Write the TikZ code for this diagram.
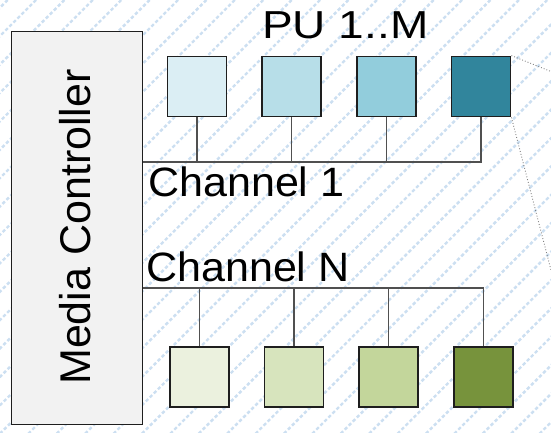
\documentclass[tikz,border=0pt]{standalone}
\usepackage{fontspec}
\setmainfont{Liberation Sans}
\usetikzlibrary{calc}
\definecolor{hatch}{RGB}{204,223,241}
\definecolor{mcfill}{RGB}{242,242,242}
\definecolor{bA}{RGB}{219,238,244}
\definecolor{bB}{RGB}{183,222,232}
\definecolor{bC}{RGB}{146,205,220}
\definecolor{bD}{RGB}{49,133,156}
\definecolor{gA}{RGB}{235,241,222}
\definecolor{gB}{RGB}{215,228,189}
\definecolor{gC}{RGB}{195,214,155}
\definecolor{gD}{RGB}{119,147,60}
\definecolor{edge}{RGB}{30,30,30}
\definecolor{wire}{RGB}{80,80,80}
\tikzset{
  pubox/.style={draw=edge, line width=1.8pt, minimum width=59pt, minimum height=60pt, inner sep=0pt},
  conn/.style={draw=wire, line width=1.1pt},
  zoomline/.style={draw=gray, line width=0.9pt, dotted},
  lbl/.style={inner sep=0pt, text=black}
}
\begin{document}
\begin{tikzpicture}[x=1pt,y=-1pt]
\useasboundingbox (0,0) rectangle (551,433);
% background hatching
\begin{scope}
\clip (0,0) rectangle (551,433);
\foreach \k in {-1,...,36} {
  \pgfmathsetmacro{\c}{36+28.4*\k}
  \draw[hatch, line width=2.4pt, dash pattern=on 3.4pt off 2.3pt] (\c,0) -- ++(-460,460);
}
\end{scope}
% media controller
\node[draw=edge, fill=mcfill, line width=1.8pt, minimum width=131pt, minimum height=393pt, inner sep=0pt] (mc) at (77,228) {};
\node[lbl, rotate=90, anchor=base, font=\fontsize{43}{43}\selectfont] (mct) at (90,227) {Media Controller};
% top PUs
\node[pubox, fill=bA] (t1) at (197,86.5) {};
\node[pubox, fill=bB] (t2) at (291.5,86.5) {};
\node[pubox, fill=bC] (t3) at (386.5,86.5) {};
\node[pubox, fill=bD] (t4) at (481,86.5) {};
% bottom PUs
\node[pubox, fill=gA] (b1) at (199.5,377) {};
\node[pubox, fill=gB] (b2) at (294,377) {};
\node[pubox, fill=gC] (b3) at (388.5,377) {};
\node[pubox, fill=gD] (b4) at (483.5,377) {};
% channel 1
\coordinate (c1) at (mc.east |- 0,162);
\draw[conn] (c1) -- (t4.south |- c1) -- (t4.south);
\foreach \n in {t1,t2,t3} { \draw[conn] (\n.south) -- (\n.south |- c1); }
% channel N
\coordinate (cN) at (mc.east |- 0,288);
\draw[conn] (cN) -- (b4.north |- cN) -- (b4.north);
\foreach \n in {b1,b2,b3} { \draw[conn] (\n.north) -- (\n.north |- cN); }
% zoom lines
\coordinate (z1) at (551,71.5);
\coordinate (z2) at (551,270);
\draw[zoomline] (t4.north east) -- (z1);
\draw[zoomline] (t4.south east) -- (z2);
% labels
\node[lbl, anchor=base west, font=\fontsize{39}{39}\selectfont] (pu) at (262,38.3) {\scalebox{1.18}[1]{PU 1..M}};
\node[lbl, anchor=base west, font=\fontsize{41}{41}\selectfont] (ch1) at (148,196.7) {\scalebox{1.05}[1]{Channel 1}};
\node[lbl, anchor=base west, font=\fontsize{41}{41}\selectfont] (chN) at (146,281.7) {\scalebox{1.05}[1]{Channel N}};
\end{tikzpicture}
\end{document}
